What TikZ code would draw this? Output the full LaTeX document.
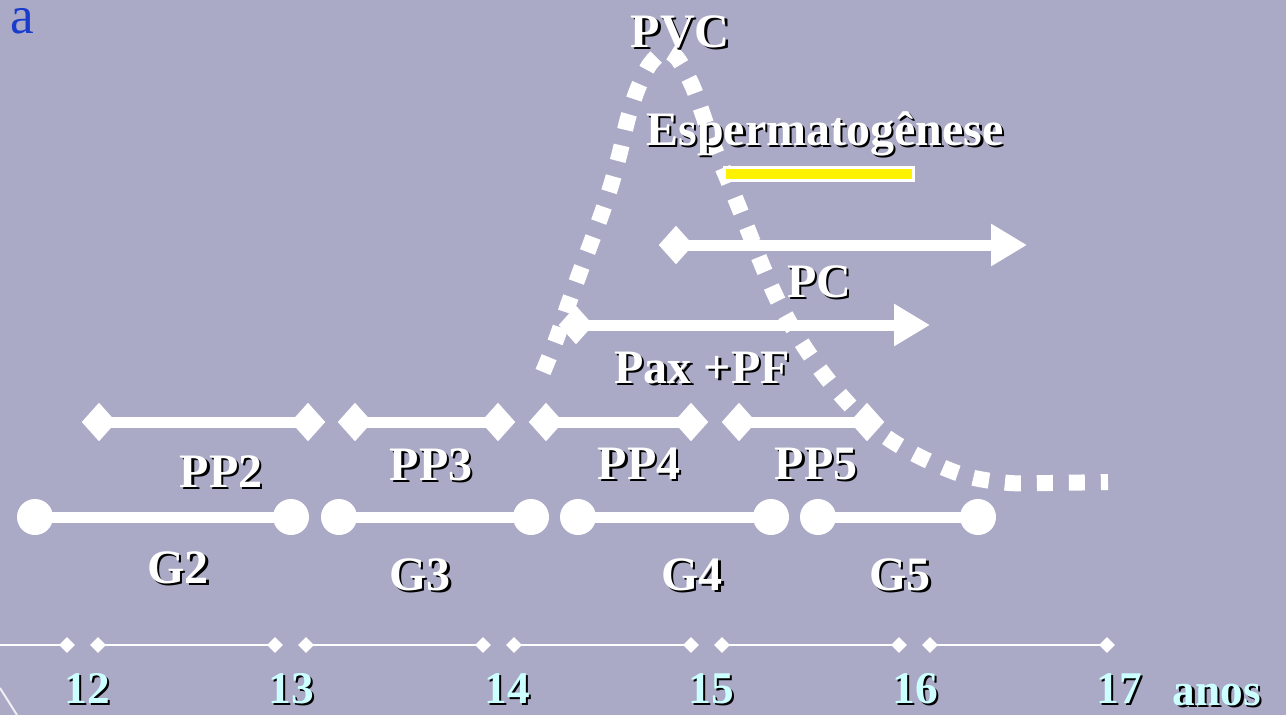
\documentclass[tikz,border=0pt]{standalone}
\usepackage{fontspec}
\setmainfont{Liberation Serif}
\usetikzlibrary{shapes.geometric,arrows.meta}
\definecolor{bg}{RGB}{170,170,199}
\definecolor{numcol}{RGB}{204,255,255}
\definecolor{ttlcol}{RGB}{25,60,205}
\newcommand\shlab[4]{%
  \node[#1,text=black,xshift=1.8pt,yshift=-1.8pt] (#2s) at (#3) {#4};
  \node[#1] (#2) at (#3) {#4};}
\tikzset{
  lbl/.style={anchor=base, inner sep=0pt, text=white, font=\fontsize{36}{40}\selectfont\bfseries},
  numlbl/.style={lbl, text=numcol, font=\fontsize{34}{38}\selectfont\bfseries},
  anoslbl/.style={lbl, text=numcol, font=\fontsize{34}{38}\selectfont\bfseries},
  gdot/.style={circle, fill=white, inner sep=0pt, minimum size=27pt},
  pdia/.style={diamond, fill=white, inner sep=0pt, minimum width=26pt, minimum height=29pt},
  adia/.style={diamond, fill=white, inner sep=0pt, minimum width=12pt, minimum height=12pt},
  bar/.style={white, line width=8.25pt},
  axisline/.style={white, line width=1.5pt},
  arr/.style={bar, -{Triangle[length=27pt 0, width=30pt 0]}},
  dots/.style={white, line width=12pt, dash pattern=on 12pt off 12pt},
}
\begin{document}
\begin{tikzpicture}[x=0.75pt,y=-0.75pt]
\fill[bg] (0,0) rectangle (1286,715);
\useasboundingbox (0,0) rectangle (1286,715);

% title fragment
\node[anchor=base, inner sep=0pt, text=ttlcol, font=\fontsize{40}{44}\selectfont] (ttla) at (22,33) {a};
% decorative line bottom-left
\draw[white!80!bg, line width=1.5pt] (0,688) -- (17,715);

% dotted PVC curve
\draw[dots] plot[smooth, tension=0.55] coordinates {
 (543,372) (556,340) (568,305) (580,272) (592,240) (603,210) (612,182) (620,152)
 (628,118) (638,88) (650,64) (664,52) (677,58) (692,85) (703,115) (714,147)
 (727,178) (740,210) (752,240) (765,272) (780,305) (800,340) (822,372) (845,400)
 (870,425) (900,446) (935,464) (970,477) (1010,483) (1050,483) (1108,482)};

% yellow bar
\node[draw=white, line width=2.5pt, fill=yellow, inner sep=0pt, minimum width=142pt, minimum height=10pt] (ybar) at (819,174) {};

% PC arrow
\node[pdia] (pca) at (676,245) {};
\coordinate (pct) at (1027,245);
\draw[arr] (pca.center) -- (pct);
% Pax arrow
\node[pdia] (paxa) at (576,325) {};
\coordinate (paxt) at (930,325);
\draw[arr] (paxa.center) -- (paxt);

% PP bars
\node[pdia] (pp2a) at (99,422) {};  \node[pdia] (pp2b) at (308,422) {};
\node[pdia] (pp3a) at (355,422) {}; \node[pdia] (pp3b) at (498,422) {};
\node[pdia] (pp4a) at (546,422) {}; \node[pdia] (pp4b) at (691,422) {};
\node[pdia] (pp5a) at (739,422) {}; \node[pdia] (pp5b) at (867,422) {};
\draw[bar] (pp2a.center) -- (pp2b.center);
\draw[bar] (pp3a.center) -- (pp3b.center);
\draw[bar] (pp4a.center) -- (pp4b.center);
\draw[bar] (pp5a.center) -- (pp5b.center);

% G bars
\node[gdot] (g2a) at (35,517) {};  \node[gdot] (g2b) at (291,517) {};
\node[gdot] (g3a) at (339,517) {}; \node[gdot] (g3b) at (531,517) {};
\node[gdot] (g4a) at (578,517) {}; \node[gdot] (g4b) at (771,517) {};
\node[gdot] (g5a) at (818,517) {}; \node[gdot] (g5b) at (978,517) {};
\draw[bar] (g2a.center) -- (g2b.center);
\draw[bar] (g3a.center) -- (g3b.center);
\draw[bar] (g4a.center) -- (g4b.center);
\draw[bar] (g5a.center) -- (g5b.center);

% axis
\coordinate (ax0) at (0,645);
\node[adia] (d12a) at (67,645) {};  \node[adia] (d12b) at (98,645) {};
\node[adia] (d13a) at (275,645) {}; \node[adia] (d13b) at (306,645) {};
\node[adia] (d14a) at (483,645) {}; \node[adia] (d14b) at (514,645) {};
\node[adia] (d15a) at (691,645) {}; \node[adia] (d15b) at (722,645) {};
\node[adia] (d16a) at (899,645) {}; \node[adia] (d16b) at (930,645) {};
\node[adia] (d17a) at (1107,645) {};
\draw[axisline] (ax0) -- (d12a.center);
\draw[axisline] (d12b.center) -- (d13a.center);
\draw[axisline] (d13b.center) -- (d14a.center);
\draw[axisline] (d14b.center) -- (d15a.center);
\draw[axisline] (d15b.center) -- (d16a.center);
\draw[axisline] (d16b.center) -- (d17a.center);

% labels
\shlab{lbl}{pvc}{680,47}{PVC}
\shlab{lbl}{esp}{825,145}{Espermatogênese}
\shlab{lbl}{pc}{819,297}{PC}
\shlab{lbl}{pax}{702,383}{Pax +PF}
\shlab{lbl}{lpp2}{221,487}{PP2}
\shlab{lbl}{lpp3}{431,480}{PP3}
\shlab{lbl}{lpp4}{639,479}{PP4}
\shlab{lbl}{lpp5}{816,479}{PP5}
\shlab{lbl}{lg2}{178,583}{G2}
\shlab{lbl}{lg3}{420,590}{G3}
\shlab{lbl}{lg4}{692,590}{G4}
\shlab{lbl}{lg5}{900,590}{G5}
\shlab{numlbl}{n12}{87,703}{12}
\shlab{numlbl}{n13}{291,703}{13}
\shlab{numlbl}{n14}{507,703}{14}
\shlab{numlbl}{n15}{711,703}{15}
\shlab{numlbl}{n16}{915,703}{16}
\shlab{numlbl}{n17}{1119,703}{17}
\shlab{anoslbl}{anos}{1217,705}{anos}
\end{tikzpicture}
\end{document}
